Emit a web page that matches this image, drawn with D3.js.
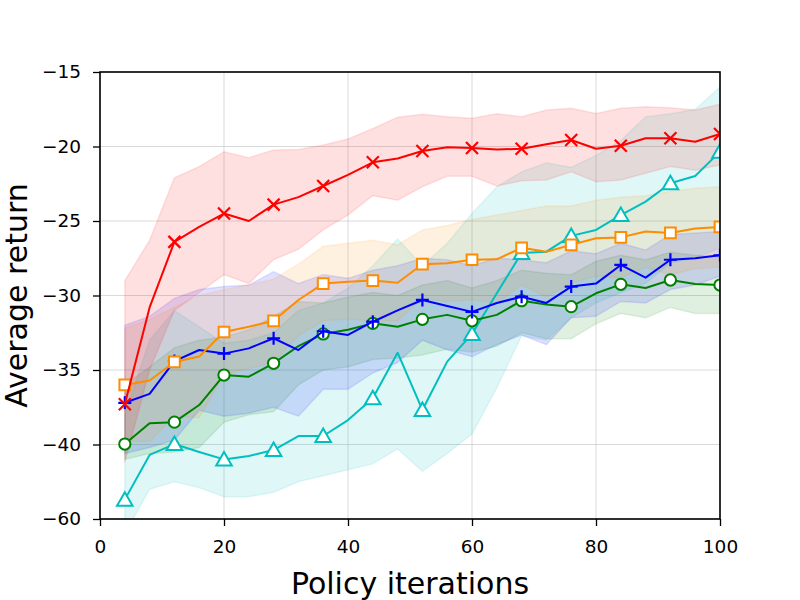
<!DOCTYPE html>
<html>
<head>
<meta charset="utf-8">
<script src="https://cdn.jsdelivr.net/npm/d3@7"></script>
<style>
  body { margin: 0; background: #fff; }
  text { font-family: "DejaVu Sans", sans-serif; }
</style>
</head>
<body>
<svg id="ctner"></svg>
<script>
// policy iterations (x) for every sample
const iters = [4, 8, 12, 16, 20, 24, 28, 32, 36, 40, 44, 48, 52, 56, 60, 64, 68, 72, 76, 80, 84, 88, 92, 96, 100];

// y ticks: positions and the labels printed on them (bottom one is labelled -60)
const yTickValues = [-15, -20, -25, -30, -35, -40, -45];
const yTickLabels = ["\u221215", "\u221220", "\u221225", "\u221230", "\u221235", "\u221240", "\u221260"];
const xTickValues = [0, 20, 40, 60, 80, 100];

// cyan, triangles
const cyanMean = [-43.7, -40.7, -39.97, -40.5, -41.0, -40.77, -40.37, -39.43, -39.43, -38.36, -36.9, -33.84, -37.68, -34.44, -32.58, -29.85, -27.15, -27.06, -26.0, -25.6, -24.6, -23.7, -22.47, -21.98, -20.35];
const cyanHigh = [-38.0, -33.0, -31.0, -32.1, -33.2, -33.0, -32.5, -31.0, -30.5, -29.5, -28.0, -26.2, -28.0, -26.5, -24.5, -22.7, -21.7, -21.1, -21.4, -20.6, -19.6, -18.0, -17.8, -17.5, -16.0];
const cyanLow = [-46.0, -43.0, -42.5, -42.9, -43.5, -43.5, -43.2, -42.5, -42.1, -41.7, -41.3, -40.3, -41.8, -40.6, -39.3, -36.2, -32.7, -33.0, -31.5, -30.5, -29.8, -29.2, -27.8, -27.5, -26.8];

// green, circles
const greenMean = [-39.97, -38.58, -38.5, -37.35, -35.34, -35.45, -34.55, -33.4, -32.58, -32.3, -31.87, -32.1, -31.6, -31.3, -31.7, -31.3, -30.35, -30.6, -30.75, -29.85, -29.25, -29.5, -28.96, -29.23, -29.3];
const greenHigh = [-36.0, -34.8, -33.5, -33.0, -32.8, -32.3, -31.4, -30.4, -30.5, -30.1, -29.8, -30.0, -29.3, -29.0, -29.5, -29.0, -28.3, -28.5, -28.6, -27.7, -27.3, -27.6, -27.1, -27.3, -27.4];
const greenLow = [-41.0, -40.6, -40.5, -40.2, -38.5, -38.0, -37.8, -36.0, -35.0, -34.8, -34.3, -34.2, -34.0, -33.6, -33.8, -33.4, -32.5, -32.9, -32.9, -31.9, -31.2, -31.5, -30.8, -31.2, -31.2];

// blue, plus
const blueMean = [-37.2, -36.6, -34.4, -33.66, -33.9, -33.55, -32.87, -33.66, -32.4, -32.65, -31.76, -31.0, -30.3, -30.7, -31.1, -30.5, -30.08, -30.5, -29.4, -29.2, -27.95, -28.8, -27.6, -27.5, -27.3];
const blueHigh = [-32.0, -31.4, -30.2, -29.6, -29.4, -29.3, -28.4, -29.2, -28.6, -28.85, -28.3, -28.0, -27.5, -27.6, -28.0, -27.5, -27.6, -27.8, -27.0, -27.2, -26.5, -26.95, -25.9, -25.8, -25.7];
const blueLow = [-40.6, -40.2, -39.7, -37.7, -38.1, -37.9, -37.5, -38.1, -36.3, -36.3, -35.2, -34.5, -33.0, -33.65, -34.1, -33.3, -32.65, -33.3, -31.5, -31.4, -30.4, -30.5, -29.6, -29.3, -28.7];

// orange, squares
const orangeMean = [-36.0, -35.7, -34.46, -34.1, -32.45, -32.1, -31.7, -30.3, -29.2, -29.07, -29.0, -29.14, -27.9, -27.84, -27.6, -27.57, -26.8, -27.06, -26.6, -26.16, -26.1, -25.7, -25.8, -25.5, -25.4];
const orangeHigh = [-32.2, -31.6, -30.8, -30.0, -29.6, -29.3, -28.9, -27.9, -26.7, -26.5, -26.3, -26.6, -25.6, -25.3, -24.9, -24.6, -24.3, -24.0, -24.0, -23.6, -23.4, -23.3, -23.0, -22.8, -22.7];
const orangeLow = [-39.8, -39.8, -38.1, -38.2, -35.3, -34.9, -34.5, -32.7, -31.7, -31.6, -31.7, -31.7, -30.2, -30.4, -30.3, -30.5, -29.3, -30.1, -29.2, -28.7, -28.8, -28.1, -28.6, -28.2, -28.1];

// red, crosses
const redMean = [-37.3, -30.8, -26.4, -25.4, -24.5, -25.0, -23.9, -23.4, -22.65, -21.9, -21.06, -20.8, -20.3, -20.05, -20.1, -20.2, -20.15, -19.85, -19.56, -20.15, -19.95, -19.45, -19.45, -19.68, -19.16];
const redHigh = [-29.0, -26.3, -22.1, -21.35, -20.35, -20.75, -20.23, -20.2, -19.9, -19.5, -18.8, -18.04, -17.84, -18.0, -18.1, -17.8, -18.0, -17.55, -17.44, -17.78, -17.44, -17.33, -17.4, -17.55, -17.17];
const redLow = [-41.2, -35.0, -31.0, -29.8, -28.6, -29.2, -27.6, -26.9, -25.6, -24.6, -23.3, -23.6, -22.7, -22.0, -22.0, -22.65, -22.3, -22.25, -21.7, -22.36, -22.25, -21.8, -21.35, -21.6, -21.24];

main();

function main() {
  const width = 800;
  const height = 600;
  const svg = d3.select("#ctner").attr("width", width).attr("height", height);

  const series = [
    { key: "cyan", color: "#00bfbf", marker: "triangle", mean: cyanMean, low: cyanLow, high: cyanHigh },
    { key: "green", color: "#008000", marker: "circle", mean: greenMean, low: greenLow, high: greenHigh },
    { key: "blue", color: "#0000ff", marker: "plus", mean: blueMean, low: blueLow, high: blueHigh },
    { key: "orange", color: "#ff8c00", marker: "square", mean: orangeMean, low: orangeLow, high: orangeHigh },
    { key: "red", color: "#ff0000", marker: "cross", mean: redMean, low: redLow, high: redHigh },
  ].map((s) => ({
    ...s,
    values: iters.map((it, i) => ({ it, mean: s.mean[i], low: s.low[i], high: s.high[i] })),
  }));

  renderChart(svg, series);
}

function renderChart(root, series) {
  /* layout */
  const margin = { top: 72, left: 100, bottom: 81, right: 80 };
  const w = 800 - margin.left - margin.right;
  const h = 600 - margin.top - margin.bottom;

  /* scales */
  const x = d3.scaleLinear().domain([0, 100]).range([0, w]);
  const y = d3.scaleLinear().domain([-45, -15]).range([h, 0]);

  const g = root.append("g").attr("transform", `translate(${margin.left}, ${margin.top})`);

  root.append("defs")
    .append("clipPath")
    .attr("id", "plotclip")
    .append("rect")
    .attr("width", w)
    .attr("height", h);

  /* grid */
  g.append("g")
    .selectAll("line.vg")
    .data(xTickValues)
    .join("line")
    .attr("x1", (d) => x(d))
    .attr("x2", (d) => x(d))
    .attr("y1", 0)
    .attr("y2", h)
    .attr("stroke", "#b0b0b0")
    .attr("stroke-opacity", 0.6)
    .attr("stroke-width", 0.8);
  g.append("g")
    .selectAll("line.hg")
    .data(yTickValues)
    .join("line")
    .attr("x1", 0)
    .attr("x2", w)
    .attr("y1", (d) => y(d))
    .attr("y2", (d) => y(d))
    .attr("stroke", "#b0b0b0")
    .attr("stroke-opacity", 0.6)
    .attr("stroke-width", 0.8);

  const plot = g.append("g").attr("clip-path", "url(#plotclip)");

  /* bands first */
  const area = d3.area()
    .x((d) => x(d.it))
    .y0((d) => y(d.low))
    .y1((d) => y(d.high));
  plot.append("g")
    .selectAll("path")
    .data(series)
    .join("path")
    .attr("d", (d) => area(d.values))
    .attr("fill", (d) => d.color)
    .attr("fill-opacity", 0.12)
    .attr("stroke", (d) => d.color)
    .attr("stroke-opacity", 0.1)
    .attr("stroke-width", 1.5);

  /* lines + markers */
  const line = d3.line()
    .x((d) => x(d.it))
    .y((d) => y(d.mean));
  const sym = {
    triangle: d3.symbol().type(d3.symbolTriangle).size(105),
    circle: d3.symbol().type(d3.symbolCircle).size(100),
    square: d3.symbol().type(d3.symbolSquare).size(115),
  };

  const serie = plot.append("g")
    .selectAll("g")
    .data(series)
    .join("g");
  serie.append("path")
    .attr("fill", "none")
    .attr("stroke", (d) => d.color)
    .attr("stroke-width", 2)
    .attr("stroke-linejoin", "round")
    .attr("d", (d) => line(d.values));

  serie.each(function (s) {
    const pts = s.values.filter((d, i) => i % 2 === 0);
    const grp = d3.select(this).append("g");
    const m = grp.selectAll("g").data(pts).join("g")
      .attr("transform", (d) => `translate(${x(d.it)}, ${y(d.mean)})`);
    if (s.marker === "cross") {
      m.append("path")
        .attr("d", "M-6,-6L6,6M-6,6L6,-6")
        .attr("stroke", s.color)
        .attr("stroke-width", 2.2)
        .attr("fill", "none");
    } else if (s.marker === "plus") {
      m.append("path")
        .attr("d", "M-6.5,0L6.5,0M0,-6.5L0,6.5")
        .attr("stroke", s.color)
        .attr("stroke-width", 2.2)
        .attr("fill", "none");
    } else {
      m.append("path")
        .attr("d", sym[s.marker]())
        .attr("transform", s.marker === "triangle" ? "translate(0,1.5)" : null)
        .attr("fill", "#fff")
        .attr("stroke", s.color)
        .attr("stroke-width", 2);
    }
  });

  /* axes */
  const xAxis = g.append("g")
    .attr("transform", `translate(0, ${h})`)
    .call(d3.axisBottom(x).tickValues(xTickValues).tickSize(7).tickPadding(14).tickFormat(d3.format("d")));
  const yAxis = g.append("g")
    .call(d3.axisLeft(y).tickValues(yTickValues).tickSize(7).tickPadding(12)
      .tickFormat((d, i) => yTickLabels[i]));
  [xAxis, yAxis].forEach((a) => {
    a.select(".domain").remove();
    a.selectAll(".tick line").attr("stroke", "#000").attr("stroke-width", 1.3);
    a.selectAll(".tick text").attr("fill", "#000").style("font-size", "18.5px").style("font-family", "DejaVu Sans");
  });

  // frame
  g.append("rect")
    .attr("width", w)
    .attr("height", h)
    .attr("fill", "none")
    .attr("stroke", "#000")
    .attr("stroke-width", 1.6);

  /* labels */
  g.append("text")
    .attr("x", w / 2)
    .attr("y", h + 75)
    .attr("text-anchor", "middle")
    .style("font-size", "30px")
    .text("Policy iterations");
  g.append("text")
    .attr("transform", `translate(-73, ${h / 2}) rotate(-90)`)
    .attr("text-anchor", "middle")
    .style("font-size", "30px")
    .text("Average return");
}
</script>
</body>
</html>
